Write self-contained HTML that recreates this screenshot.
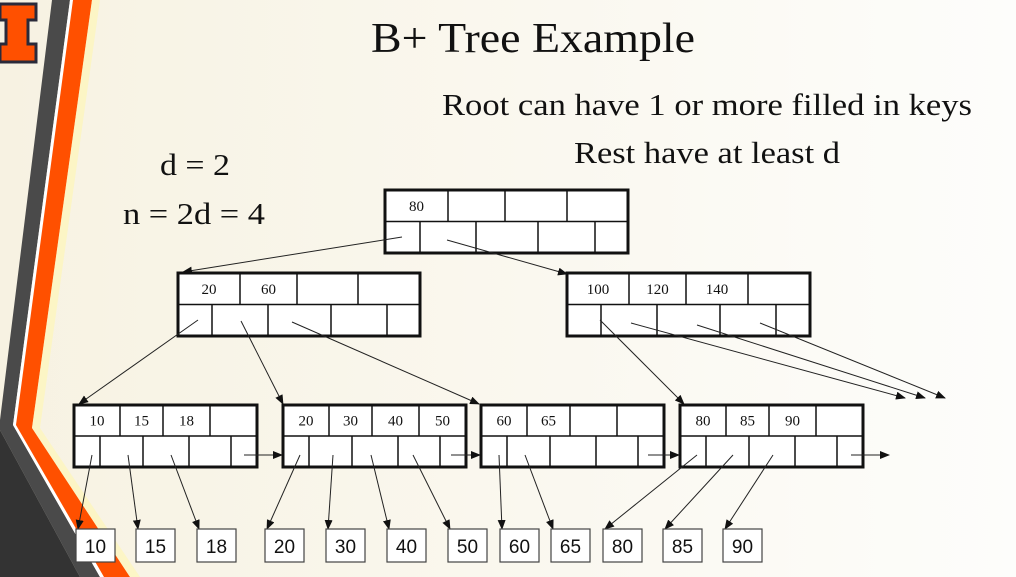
<!DOCTYPE html>
<html><head><meta charset="utf-8"><style>
html,body{margin:0;padding:0;background:#fbf9f1;}
svg{display:block;}
.t{font-family:"Liberation Serif",serif;fill:#111;}
.k{font-family:"Liberation Serif",serif;font-size:15px;fill:#111;text-anchor:middle;}
.d{font-family:"Liberation Sans",sans-serif;font-size:19px;fill:#111;text-anchor:middle;}
</style></head><body>
<svg id="s" width="1016" height="577" viewBox="0 0 1016 577" xmlns="http://www.w3.org/2000/svg">
<defs>
<marker id="ah" markerWidth="10" markerHeight="8" refX="9" refY="4" orient="auto" markerUnits="userSpaceOnUse">
<path d="M0,0 L10,4 L0,8 z" fill="#111"/></marker>
<linearGradient id="bg" x1="0" x2="1"><stop offset="0" stop-color="#f7f2e2"/><stop offset="1" stop-color="#fdfdfb"/></linearGradient>
</defs>
<rect width="1016" height="577" fill="url(#bg)"/>
<g>
<polygon points="52,0 70,0 13,425 100,577 80,577 0,430 0,420" fill="#4a4a4a"/>
<polygon points="70,0 73,0 16,425 104,577 100,577 13,425" fill="#fff"/>
<polygon points="73,0 92,0 32,428 130,577 104,577 16,425" fill="#ff5000"/>
<polygon points="92,0 100,0 40,428 140,577 130,577 32,428" fill="#fff6b0" opacity="0.6"/>
<polygon points="0,430 80,577 0,577" fill="#333"/>
</g>
<g>
<path d="M0,4 H36 V20 H28 V44 H36 V62 H0 V44 H6 V20 H0 Z" fill="#ff5000" stroke="#2a2a3a" stroke-width="3"/>
</g>
<text class="t" x="371" y="52" font-size="42" textLength="324" lengthAdjust="spacingAndGlyphs">B+ Tree Example</text>
<text class="t" x="442" y="115" font-size="31" textLength="530" lengthAdjust="spacingAndGlyphs">Root can have 1 or more filled in keys</text>
<text class="t" x="574" y="163" font-size="31" textLength="266" lengthAdjust="spacingAndGlyphs">Rest have at least d</text>
<text class="t" x="160" y="175" font-size="31" textLength="70" lengthAdjust="spacingAndGlyphs">d = 2</text>
<text class="t" x="123" y="224" font-size="31" textLength="142" lengthAdjust="spacingAndGlyphs">n = 2d = 4</text>
<g id="g"></g>
</svg>
<script>
const rootKeys=["80","","",""];
const l2Keys=[["20","60","",""],["100","120","140",""]];
const leafKeys=[["10","15","18",""],["20","30","40","50"],["60","65","",""],["80","85","90",""]];
const dataVals=["10","15","18","20","30","40","50","60","65","80","85","90"];
const dataX=[76,136,197,265,326,387,448,500,551,603,663,723];
const g=document.getElementById('g');
const NS="http://www.w3.org/2000/svg";
function el(t,a){const e=document.createElementNS(NS,t);for(const k in a)e.setAttribute(k,a[k]);g.appendChild(e);return e;}
function node(x,y,w,h,keys,tops,bots,name){
  const r=el('rect',{x:x,y:y,width:w,height:h,fill:'#fff',stroke:'#111','stroke-width':3});
  
  
  const m=y+h/2;
  el('line',{x1:x,y1:m,x2:x+w,y2:m,stroke:'#111','stroke-width':1.5});
  tops.forEach(t=>el('line',{x1:t,y1:y,x2:t,y2:m,stroke:'#111','stroke-width':1.5}));
  bots.forEach(t=>el('line',{x1:t,y1:m,x2:t,y2:y+h,stroke:'#111','stroke-width':1.5}));
  const xs=[x].concat(tops,[x+w]);
  keys.forEach((k,i)=>{if(!k)return;const tx=el('text',{x:(xs[i]+xs[i+1])/2,y:y+h/4+5,class:'k'});tx.textContent=k;
  
  });
}
function arr(x1,y1,x2,y2){el('line',{x1:x1,y1:y1,x2:x2,y2:y2,stroke:'#222','stroke-width':1,'marker-end':'url(#ah)'});}
node(385,190,243,63,rootKeys,[448,505,567],[420,476,538,595],'root-node');
node(178,273,242,63,l2Keys[0],[240,297,358],[212,268,331,387],'internal-node-left');
node(567,273,243,63,l2Keys[1],[629,686,748],[601,657,720,776],'internal-node-right');
const leafX=[74,283,481,680];
leafX.forEach((x,i)=>node(x,405,183,62,leafKeys[i],[x+46,x+89,x+136],[x+26,x+69,x+115,x+157],'leaf-node-'+(i+1)));
arr(402,237,183,272);arr(447,240,567,274);
arr(198,320,79,404);arr(241,321,283,404);arr(292,322,479,404);
arr(600,320,684,404);arr(631,323,905,398);arr(697,325,925,398);arr(760,323,945,398);
const leafFrom=[[92,128,171],[300,333,371,413],[499,525],[697,733,773]];
let di=0;
leafFrom.forEach(a=>a.forEach(fx=>{const tx=dataX[di]+2;arr(fx,455,tx,529);di++;}));
arr(244,455,282,455);arr(451,455,480,455);arr(648,455,679,455);arr(851,455,889,455);
dataVals.forEach((v,i)=>{
  const r=el('rect',{x:dataX[i],y:529,width:39,height:33,fill:'#fff',stroke:'#444','stroke-width':1.2});
  
  
  const t=el('text',{x:dataX[i]+19.5,y:553,class:'d'});t.textContent=v;
  
  
});
</script>
</body></html>
